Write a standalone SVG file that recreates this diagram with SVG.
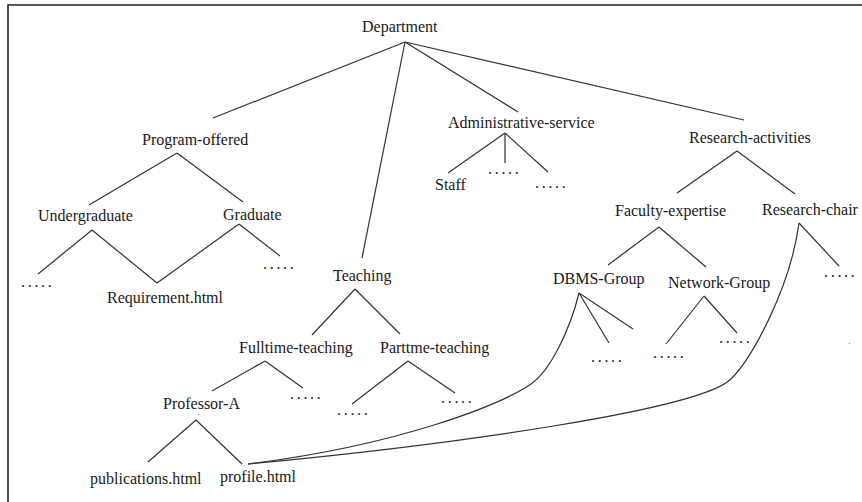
<svg xmlns="http://www.w3.org/2000/svg" width="862" height="502" viewBox="0 0 862 502">
  <style>
    .lbl { font-family: "Liberation Serif", "Times New Roman", serif; font-size: 16px; fill: #1a1a1a; }
    .dots { font-family: "Liberation Serif", "Times New Roman", serif; font-size: 16px; fill: #1a1a1a; letter-spacing: 2.7px; }
    .edge { stroke: #333; stroke-width: 1.2; fill: none; }
    .frame { stroke: #222; stroke-width: 1.6; fill: none; }
  </style>
  <rect width="862" height="502" fill="#fff"/>
  <!-- open frame: top and left rules only -->
  <path class="frame" d="M8,502 V5 H862"/>

  <g id="connectors">
    <!-- Department -->
    <line class="edge" x1="405" y1="42" x2="213" y2="118"/>
    <line class="edge" x1="405" y1="42" x2="362" y2="258"/>
    <line class="edge" x1="405" y1="42" x2="518" y2="112"/>
    <line class="edge" x1="405" y1="42" x2="744" y2="120"/>
    <!-- Program-offered -->
    <line class="edge" x1="177" y1="153" x2="89" y2="205"/>
    <line class="edge" x1="177" y1="153" x2="243" y2="202"/>
    <!-- Undergraduate / Graduate -->
    <line class="edge" x1="92" y1="230" x2="38" y2="274"/>
    <line class="edge" x1="92" y1="230" x2="157" y2="283"/>
    <line class="edge" x1="239" y1="224" x2="157" y2="283"/>
    <line class="edge" x1="239" y1="224" x2="280" y2="256"/>
    <!-- Teaching -->
    <line class="edge" x1="355" y1="289" x2="312" y2="335"/>
    <line class="edge" x1="355" y1="289" x2="400" y2="334"/>
    <!-- Fulltime-teaching -->
    <line class="edge" x1="265" y1="361" x2="212" y2="391"/>
    <line class="edge" x1="265" y1="361" x2="303" y2="388"/>
    <!-- Parttme-teaching -->
    <line class="edge" x1="408" y1="361" x2="352" y2="404"/>
    <line class="edge" x1="408" y1="361" x2="455" y2="393"/>
    <!-- Professor-A -->
    <line class="edge" x1="196" y1="420" x2="148" y2="462"/>
    <line class="edge" x1="196" y1="420" x2="242" y2="464"/>
    <!-- Administrative-service -->
    <line class="edge" x1="505" y1="133" x2="448" y2="173"/>
    <line class="edge" x1="505" y1="133" x2="505" y2="163"/>
    <line class="edge" x1="505" y1="133" x2="548" y2="172"/>
    <!-- Research-activities -->
    <line class="edge" x1="737" y1="151" x2="677" y2="193"/>
    <line class="edge" x1="737" y1="151" x2="795" y2="194"/>
    <!-- Faculty-expertise -->
    <line class="edge" x1="659" y1="227" x2="608" y2="265"/>
    <line class="edge" x1="659" y1="227" x2="706" y2="267"/>
    <!-- Research-chair -->
    <line class="edge" x1="799" y1="223" x2="839" y2="266"/>
    <!-- DBMS-Group -->
    <line class="edge" x1="579" y1="293" x2="609" y2="343"/>
    <line class="edge" x1="579" y1="293" x2="633" y2="329"/>
    <!-- Network-Group -->
    <line class="edge" x1="704" y1="296" x2="666" y2="344"/>
    <line class="edge" x1="704" y1="296" x2="737" y2="333"/>
    <!-- cross links to profile.html -->
    <path class="edge" d="M248,464 C400,445 500,405 531,384 C550,371 570,330 579,293"/>
    <path class="edge" d="M248,464 C450,445 700,410 731,379 C751,359 790,290 799,223"/>
  </g>

  <g id="department"><text class="lbl" x="362" y="32">Department</text></g>
  <g id="program-offered"><text class="lbl" x="142" y="145">Program-offered</text></g>
  <g id="undergraduate"><text class="lbl" x="38" y="221">Undergraduate</text></g>
  <g id="graduate"><text class="lbl" x="223" y="220">Graduate</text></g>
  <g id="requirement"><text class="lbl" x="107" y="303">Requirement.html</text></g>
  <g id="teaching"><text class="lbl" x="333" y="281">Teaching</text></g>
  <g id="fulltime-teaching"><text class="lbl" x="239" y="353">Fulltime-teaching</text></g>
  <g id="parttime-teaching"><text class="lbl" x="380" y="353">Parttme-teaching</text></g>
  <g id="professor-a"><text class="lbl" x="163" y="409">Professor-A</text></g>
  <g id="publications"><text class="lbl" x="90" y="484">publications.html</text></g>
  <g id="profile"><text class="lbl" x="220" y="482">profile.html</text></g>
  <g id="administrative-service"><text class="lbl" x="448" y="128">Administrative-service</text></g>
  <g id="staff"><text class="lbl" x="435" y="190">Staff</text></g>
  <g id="research-activities"><text class="lbl" x="689" y="143">Research-activities</text></g>
  <g id="faculty-expertise"><text class="lbl" x="615" y="216">Faculty-expertise</text></g>
  <g id="research-chair"><text class="lbl" x="762" y="215">Research-chair</text></g>
  <g id="dbms-group"><text class="lbl" x="553" y="284">DBMS-Group</text></g>
  <g id="network-group"><text class="lbl" x="668" y="288">Network-Group</text></g>

  <!-- elided children -->
  <g id="more-undergraduate"><text class="dots" x="21" y="287">.....</text></g>
  <g id="more-graduate"><text class="dots" x="263" y="269">.....</text></g>
  <g id="more-fulltime"><text class="dots" x="290" y="399">.....</text></g>
  <g id="more-parttime-1"><text class="dots" x="337" y="415">.....</text></g>
  <g id="more-parttime-2"><text class="dots" x="441" y="403">.....</text></g>
  <g id="more-admin-1"><text class="dots" x="488" y="174">.....</text></g>
  <g id="more-admin-2"><text class="dots" x="535" y="188">.....</text></g>
  <g id="more-dbms"><text class="dots" x="591" y="362">.....</text></g>
  <g id="more-network-1"><text class="dots" x="653" y="358">.....</text></g>
  <g id="more-network-2"><text class="dots" x="719" y="343">.....</text></g>
  <g id="more-research-chair"><text class="dots" x="824" y="277">.....</text></g>

  <!-- specks -->
  <rect x="198" y="414" width="1" height="1" fill="#666"/>
  <rect x="849" y="343" width="1" height="1" fill="#888"/>
</svg>
